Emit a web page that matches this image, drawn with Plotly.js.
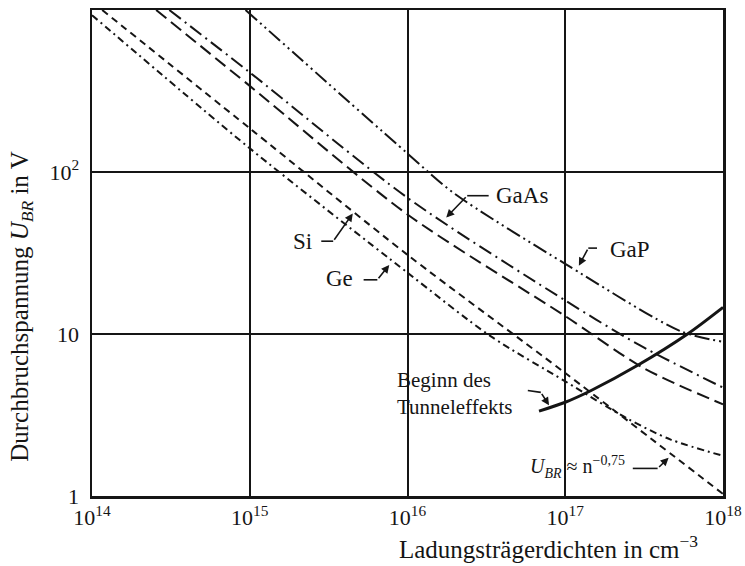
<!DOCTYPE html>
<html>
<head>
<meta charset="utf-8">
<script src="https://cdn.plot.ly/plotly-3.0.1.min.js"></script>
<style>html,body{margin:0;padding:0;background:#fff;}</style>
</head>
<body>
<div id="chart" style="width:745px;height:566px;"></div>
<script>
// ---- data (n in cm^-3, U_BR in V) ----
const gapN   = [9.4e14, 1e16, 1.95e16, 1e17, 5.4e17, 1e18];
const gapU   = [1000, 130, 74.5, 27.1, 10.4, 8.95];

const gaasN  = [3.09e14, 1e15, 1e16, 1e17, 3.0e17, 1e18];
const gaasU  = [1000, 412, 69.3, 16.1, 8.47, 4.67];

const dashN  = [2.55e14, 1e15, 1e16, 1e17, 3.15e17, 1e18];
const dashU  = [1000, 340, 54.7, 12.9, 6.15, 3.68];

const siN    = [1.16e14, 1e15, 1e16, 1e17, 1e18];
const siU    = [1000, 186, 30.8, 5.74, 1.03];

const geN    = [1e14, 1e15, 1e16, 3.36e16, 1e17, 2.5e17, 4.66e17, 1e18];
const geU    = [929, 140, 23.9, 9.7, 5.1, 2.99, 2.23, 1.77];

const tunN   = [6.82e16, 1e17, 1.46e17, 2.88e17, 5.96e17, 1e18];
const tunU   = [3.34, 3.79, 4.48, 6.41, 10, 14.6];

const xTickVals = [1e14, 1e15, 1e16, 1e17, 1e18];
const xTickText = ['10<sup>14</sup>', '10<sup>15</sup>', '10<sup>16</sup>', '10<sup>17</sup>', '10<sup>18</sup>'];
const yTickVals = [1, 10, 100, 1000];
const yTickText = ['1', '10', '10<sup>2</sup>', '10<sup>3</sup>'];

// labels
const labelTexts = ['GaAs', 'GaP', 'Si', 'Ge', 'Beginn des<br>Tunneleffekts', '<i>U</i><sub><i>BR</i></sub> ≈ n<sup>−0,75</sup>'];
const labelN     = [3.52e16, 1.87e17, 2.54e15, 4.68e15, 8.34e15, 5.79e16];
const labelU     = [71.4, 33.4, 37.4, 21.9, 4.30, 1.50];
const labelAnchor= ['left', 'left', 'right', 'right', 'left', 'left'];
const labelSize  = [23, 23, 23, 23, 21, 20];

// arrow hooks: tail end, elbow, tip
const hookTailN  = [3.27e16, 1.59e17, 2.84e15, 5.27e15, 5.79e16, 2.68e17];
const hookTailU  = [71.4, 33.9, 37.4, 21.6, 4.48, 1.48];
const hookElbN   = [2.39e16, 1.40e17, 3.38e15, 6.44e15, 7.0e16, 3.85e17];
const hookElbU   = [71.4, 33.9, 37.4, 21.6, 4.36, 1.48];
const hookTipN   = [1.76e16, 1.22e17, 4.50e15, 7.66e15, 7.89e16, 4.52e17];
const hookTipU   = [52.4, 26.4, 55.5, 26.7, 3.63, 1.72];

const INK = '#151515';
const FONT = '"Liberation Serif", "Times New Roman", Times, serif';

function line(x, y, dash, width) {
  return {x: x, y: y, type: 'scatter', mode: 'lines', hoverinfo: 'skip', showlegend: false,
          line: {color: INK, width: width, dash: dash, shape: 'spline', smoothing: 0.8}};
}

const traces = [
  line(gapN, gapU, '15px,4px,2px,4px,2px,4px', 2),
  line(gaasN, gaasU, '14px,5px,2px,5px', 2),
  line(dashN, dashU, '13px,6px', 2),
  line(siN, siU, '7px,5px', 2),
  line(geN, geU, '7px,4px,2px,4px', 2),
  line(tunN, tunU, 'solid', 3)
];

for (let i = 0; i < hookTailN.length; i++) {
  traces.push({x: [hookTailN[i], hookElbN[i]], y: [hookTailU[i], hookElbU[i]], type: 'scatter', mode: 'lines',
               hoverinfo: 'skip', showlegend: false, line: {color: INK, width: 1.6}});
}

const annotations = [];
for (let i = 0; i < labelTexts.length; i++) {
  annotations.push({x: Math.log10(labelN[i]), y: Math.log10(labelU[i]), xref: 'x', yref: 'y',
    text: labelTexts[i], showarrow: false, xanchor: labelAnchor[i], yanchor: 'middle', align: 'left',
    font: {family: FONT, size: labelSize[i], color: INK}});
}
for (let i = 0; i < hookTipN.length; i++) {
  annotations.push({x: Math.log10(hookTipN[i]), y: Math.log10(hookTipU[i]), xref: 'x', yref: 'y',
    ax: Math.log10(hookElbN[i]), ay: Math.log10(hookElbU[i]), axref: 'x', ayref: 'y',
    text: '', showarrow: true, arrowhead: 2, arrowsize: 1, arrowwidth: 1.6, arrowcolor: INK});
}
annotations.push({xref: 'paper', yref: 'paper', x: 0.723, y: -0.105, xanchor: 'center', yanchor: 'middle',
  text: 'Ladungsträgerdichten in cm<sup>−3</sup>', showarrow: false, font: {family: FONT, size: 25, color: INK}});
annotations.push({xref: 'paper', yref: 'paper', x: -0.112, y: 0.39, xanchor: 'center', yanchor: 'middle', textangle: -90,
  text: 'Durchbruchspannung <i>U</i><sub><i>BR</i></sub> in V', showarrow: false, font: {family: FONT, size: 25, color: INK}});

const axisCommon = {
  type: 'log', showgrid: true, gridcolor: INK, gridwidth: 2, showline: true, mirror: true,
  linecolor: INK, linewidth: 2.5, ticks: '', zeroline: false, fixedrange: true,
  tickfont: {family: FONT, size: 22, color: INK}
};

const layout = {
  width: 745, height: 566,
  margin: {l: 92, r: 22, t: 10, b: 70},
  paper_bgcolor: '#fff', plot_bgcolor: '#fff',
  font: {family: FONT, color: INK},
  showlegend: false,
  xaxis: Object.assign({}, axisCommon, {range: [14, 18], tickvals: xTickVals, ticktext: xTickText}),
  yaxis: Object.assign({}, axisCommon, {range: [0, 3], tickvals: yTickVals, ticktext: yTickText, ticklabelstandoff: 6}),
  annotations: annotations
};

Plotly.newPlot('chart', traces, layout, {displayModeBar: false, staticPlot: true});
</script>
</body>
</html>
